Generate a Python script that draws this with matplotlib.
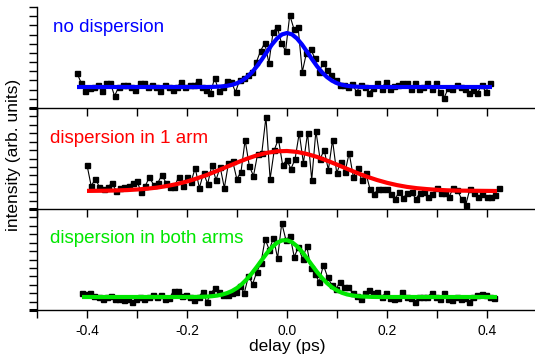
import numpy as np
import matplotlib
matplotlib.use("Agg")
import matplotlib.pyplot as plt
from matplotlib.ticker import MultipleLocator, FixedLocator, NullFormatter

plt.rcParams['font.family'] = ['Liberation Sans', 'DejaVu Sans']

# measured autocorrelation traces (arb. units)
top_x = np.linspace(-0.42, 0.406, 100)
top_y = [35, 25, 17, 20, 21, 23, 17, 25, 25, 12, 21, 23, 23, 21, 18, 25, 25, 21, 23, 21,
         17, 23, 21, 18, 21, 26, 21, 23, 23, 27, 21, 18, 15, 30, 17, 21, 27, 26, 16, 28,
         30, 33, 36, 46, 57, 65, 45,
         76, 81, 65, 57, 93, 79, 81, 36, 55, 59, 50, 36, 45, 38, 33, 28, 23, 23, 21, 24,
         16, 23, 21, 15, 20, 25, 19, 26, 19, 22, 23, 25, 25, 19, 25, 19, 21, 25, 19, 25,
         16, 10, 20, 19, 23, 21, 19, 15, 18, 15, 23, 16, 25]

mid_x = np.linspace(-0.40, 0.424, 100)
mid_y = [44, 23, 30, 22, 20, 22, 26, 18, 21, 22, 23, 26, 28, 17, 23, 32, 24, 26, 34, 26,
         22, 22, 32, 23, 32, 27, 41, 21, 36, 25, 44, 29, 42, 21, 46, 48, 30, 37, 69, 43,
         33, 55, 56, 92, 30,
         59, 70, 44, 49, 40, 50, 76, 46, 76, 29, 78, 50, 59, 39, 69, 36, 47, 37, 56, 32,
         41, 29, 36, 20, 15, 20, 20, 20, 15, 10, 17, 11, 16, 17, 10, 16, 17, 12, 15, 21,
         16, 16, 12, 21, 19, 10, 4, 20, 16, 12, 15, 12, 12, 14, 21]

bot_x = np.linspace(-0.41, 0.414, 100)
bot_y = [17, 16, 17, 14, 13, 11, 13, 14, 11, 11, 10, 11, 8, 11, 13, 11, 13, 15, 13, 15,
         11, 12, 19, 19, 14, 15, 13, 10, 13, 18, 8, 17, 22, 18, 15, 15, 17, 18, 24, 17,
         34, 26, 38, 47, 71, 60,
         72, 52, 87, 70, 74, 53, 63, 51, 64, 42, 36, 28, 45, 33, 25, 21, 28, 23, 23, 17,
         14, 11, 17, 20, 17, 18, 13, 17, 12, 11, 12, 18, 13, 12, 8, 13, 13, 13, 17, 13,
         11, 17, 11, 10, 13, 11, 12, 8, 13, 15, 16, 15, 13, 12]

# fitted curves
top_fit_x = [-0.42, -0.20, -0.16, -0.15, -0.14, -0.13, -0.12, -0.11, -0.10, -0.09, -0.08,
             -0.07, -0.06, -0.05, -0.04, -0.03, -0.02, -0.01, 0.00, 0.01, 0.02, 0.03, 0.04,
             0.05, 0.06, 0.07, 0.08, 0.09, 0.10, 0.11, 0.12, 0.13, 0.14, 0.15, 0.16, 0.20, 0.41]
top_fit_y = [21, 21, 21.0, 21.1, 21.3, 21.6, 22.2, 23.2, 24.8, 27.3, 30.9, 35.7, 41.8, 48.8,
             56.3, 63.5, 69.5, 73.6, 75.0, 73.6, 69.5, 63.5, 56.3, 48.8, 41.8, 35.7, 30.9,
             27.3, 24.8, 23.2, 22.2, 21.6, 21.3, 21.1, 21.0, 21, 21]

mid_fit_x = [-0.40, -0.38, -0.36, -0.34, -0.32, -0.30, -0.28, -0.26, -0.24, -0.22, -0.20,
             -0.18, -0.16, -0.14, -0.12, -0.10, -0.08, -0.06, -0.04, -0.02, 0.00, 0.02,
             0.04, 0.06, 0.08, 0.10, 0.12, 0.14, 0.16, 0.18, 0.20, 0.22, 0.24, 0.26, 0.28,
             0.30, 0.32, 0.34, 0.36, 0.38, 0.40, 0.42]
mid_fit_y = [18.1, 18.2, 18.3, 18.6, 18.9, 19.5, 20.3, 21.4, 23.0, 25.0, 27.5, 30.6, 34.1,
             38.1, 42.3, 46.4, 50.3, 53.7, 56.2, 57.7, 58.0, 57.1, 55.0, 52.1, 48.4, 44.4,
             40.2, 36.1, 32.3, 29.0, 26.2, 23.9, 22.1, 20.8, 19.9, 19.2, 18.7, 18.4, 18.3,
             18.2, 18.1, 18.0]

bot_fit_x = [-0.41, -0.20, -0.18, -0.17, -0.16, -0.15, -0.14, -0.13, -0.12, -0.11, -0.10,
             -0.09, -0.08, -0.07, -0.06, -0.05, -0.04, -0.03, -0.02, -0.01, 0.00, 0.01,
             0.02, 0.03, 0.04, 0.05, 0.06, 0.07, 0.08, 0.09, 0.10, 0.11, 0.12, 0.13, 0.14,
             0.15, 0.16, 0.17, 0.18, 0.20, 0.42]
bot_fit_y = [13, 13, 13.1, 13.2, 13.4, 13.8, 14.4, 15.4, 16.9, 19.0, 22.0, 26.0, 31.0, 36.9,
             43.4, 50.3, 57.0, 62.8, 67.2, 69.6, 69.8, 67.8, 63.8, 58.2, 51.7, 44.8, 38.1,
             32.1, 26.9, 22.7, 19.6, 17.2, 15.6, 14.6, 13.9, 13.5, 13.3, 13.1, 13.0, 13, 13]

labels = ["no dispersion", "dispersion in 1 arm", "dispersion in both arms"]
colors = ["#0000ff", "#ff0000", "#00e600"]

fig = plt.figure(figsize=(5.35, 3.58), dpi=100)

W, H = 535.0, 358.0
left = 37 / W
width = 498 / W
panels = [(108, top_x, top_y, top_fit_x, top_fit_y, 101 / 11.0, (53, 0.80)),
          (209, mid_x, mid_y, mid_fit_x, mid_fit_y, 101 / 12.0, (50, 0.70)),
          (310, bot_x, bot_y, bot_fit_x, bot_fit_y, 101 / 12.0, (50, 0.71))]

axes = []
for i, (bot_px, x, y, fx, fy, ystep, (tx, ty)) in enumerate(panels):
    ax = fig.add_axes([left, (H - bot_px) / H, width, 101 / H])
    ax.patch.set_visible(False)  # so the panel below doesn't hide the ticks
    ax.plot(x, y, color='black', lw=0.8, marker='s', ms=3.6, zorder=2)
    ax.plot(fx, fy, color=colors[i], lw=3.0, zorder=3, solid_capstyle='butt')
    ax.set_xlim(-0.5, 0.496)
    ax.set_ylim(0, 101)

    for s in ['top', 'right']:
        ax.spines[s].set_visible(False)
    ax.spines['left'].set_linewidth(1.0)
    ax.spines['bottom'].set_linewidth(1.0)

    ax.xaxis.set_major_locator(MultipleLocator(0.2))
    ax.xaxis.set_minor_locator(MultipleLocator(0.1))
    ax.tick_params(axis='x', which='both', direction='out', length=6, width=1.0,
                   labelsize=10, pad=4)
    if i < 2:
        ax.xaxis.set_major_formatter(NullFormatter())

    ax.yaxis.set_major_locator(FixedLocator([0]))
    ax.yaxis.set_minor_locator(FixedLocator(np.arange(1, 13) * ystep))
    ax.yaxis.set_major_formatter(NullFormatter())
    ax.tick_params(axis='y', which='major', direction='out', length=6, width=2.2)
    ax.tick_params(axis='y', which='minor', direction='out', length=6, width=1.0)

    ax.text((tx - 287) / 500.0, ty * 101, labels[i], color=colors[i], fontsize=13.5,
            ha='left', va='center')
    axes.append(ax)

axes[2].set_xticks([-0.4, -0.2, 0.0, 0.2, 0.4])
axes[2].set_xticklabels(['-0.4', '-0.2', '0.0', '0.2', '0.4'])

fig.text(287 / W, 1 - 347 / H, "delay (ps)", ha='center', va='center', fontsize=12.5)
fig.text(14 / W, 1 - 155 / H, "intensity (arb. units)", ha='center', va='center',
         rotation=90, fontsize=12.5)

fig.savefig("out.png", dpi=100)
